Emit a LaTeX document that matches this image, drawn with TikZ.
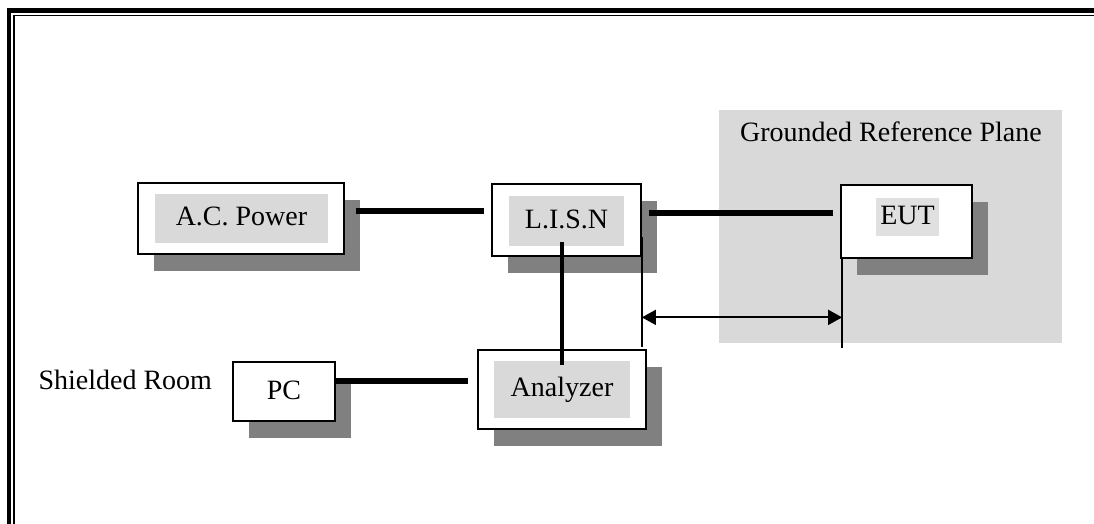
\documentclass[tikz,border=0pt]{standalone}
\usepackage{fontspec}
\setmainfont{Liberation Serif}
\usetikzlibrary{calc,shadows,arrows.meta}
\definecolor{planegray}{HTML}{D9D9D9}
\definecolor{innergray}{HTML}{D9D9D9}
\definecolor{hlgray}{HTML}{E0E0E0}
\definecolor{shadowgray}{HTML}{808080}
\begin{document}
\begin{tikzpicture}[x=1pt,y=-1pt,
  every node/.style={font=\fontsize{28}{33}\selectfont, text=black},
  box/.style={draw=black, line width=1.8pt, fill=white, rectangle, inner sep=0pt,
    drop shadow={shadow xshift=16pt, shadow yshift=-17pt, fill=shadowgray, opacity=1}},
  lbl/.style={rectangle, inner xsep=0pt, inner ysep=0pt, text height=20pt, text depth=6pt},
  inner/.style={lbl, fill=innergray},
  conn/.style={line width=5.2pt},
  vconn/.style={line width=3.8pt},
  thinline/.style={line width=1.8pt},
  dim/.style={line width=1.8pt, {Triangle[length=14pt,width=15pt]}-{Triangle[length=14pt,width=15pt]}},
  frameouter/.style={line width=4.7pt, line join=miter},
  frameinner/.style={line width=1.5pt, line join=miter}]
\useasboundingbox (0,0) rectangle (1094,524);
% page frame
\draw[frameouter] (8.9,530) -- (8.9,10.8) -- (1100,10.8);
\draw[frameinner] (14.2,530) -- (14.2,15.6) -- (1100,15.6);
% grounded reference plane
\node[rectangle, fill=planegray, minimum width=343pt, minimum height=233pt, inner sep=0pt] (plane) at (890.5,226.5) {};
\node[anchor=base] (gtitle) at (891,142) {Grounded Reference Plane};
% boxes
\node[box, minimum width=206pt, minimum height=71pt] (acp) at (241,218.5) {};
\node[inner, minimum width=173pt, minimum height=49pt] (acpl) at (241.5,218.5) {A.C. Power};
\node[box, minimum width=149pt, minimum height=72pt] (lisn) at (566.5,220) {};
\node[inner, minimum width=115pt, minimum height=50pt] (lisnl) at (566.5,221) {L.I.S.N};
\node[box, minimum width=131pt, minimum height=73pt] (eut) at (906.5,221.5) {};
\node[lbl, fill=hlgray, minimum width=63pt, minimum height=38pt] (eutl) at (907.5,217) {EUT};
\node[box, minimum width=168pt, minimum height=79pt] (ana) at (562,389.5) {};
\node[inner, minimum width=136pt, minimum height=57pt] (anal) at (562,389.5) {Analyzer};
\node[box, minimum width=102pt, minimum height=59pt] (pc) at (284,391.5) {};
\node[lbl] (pcl) at (284,392.5) {PC};
\node[anchor=base west] (room) at (35,389) {Shielded Room};
% connectors
\draw[conn] ($(acp.east)+(11,-7.5)$) coordinate (c1a) -- ($(c1a -| lisn.west)+(-7,0)$);
\draw[conn] ($(lisn.east)+(7,-7)$) coordinate (c2a) -- ($(c2a -| eut.west)+(-7,0)$);
\draw[vconn] ($(ana.north |- lisn.south)+(0,-15)$) -- ($(ana.north)+(0,16)$);
\draw[conn] ($(pc.east)+(0,-10.5)$) coordinate (c4a) -- ($(c4a -| ana.west)+(-9,0)$);
% measurement lines
\draw[thinline] ($(lisn.east)+(0,17)$) coordinate (lt) -- ($(lisn.east |- ana.north)+(0,-2)$) coordinate (lb);
\draw[thinline] ($(eut.south west)+(2,0)$) coordinate (rt) -- ($(rt |- ana.north)+(0,-1)$) coordinate (rb);
\draw[dim] ($(lt)!0.73!(lb)$) coordinate (al) -- (al -| rt);
\end{tikzpicture}
\end{document}
